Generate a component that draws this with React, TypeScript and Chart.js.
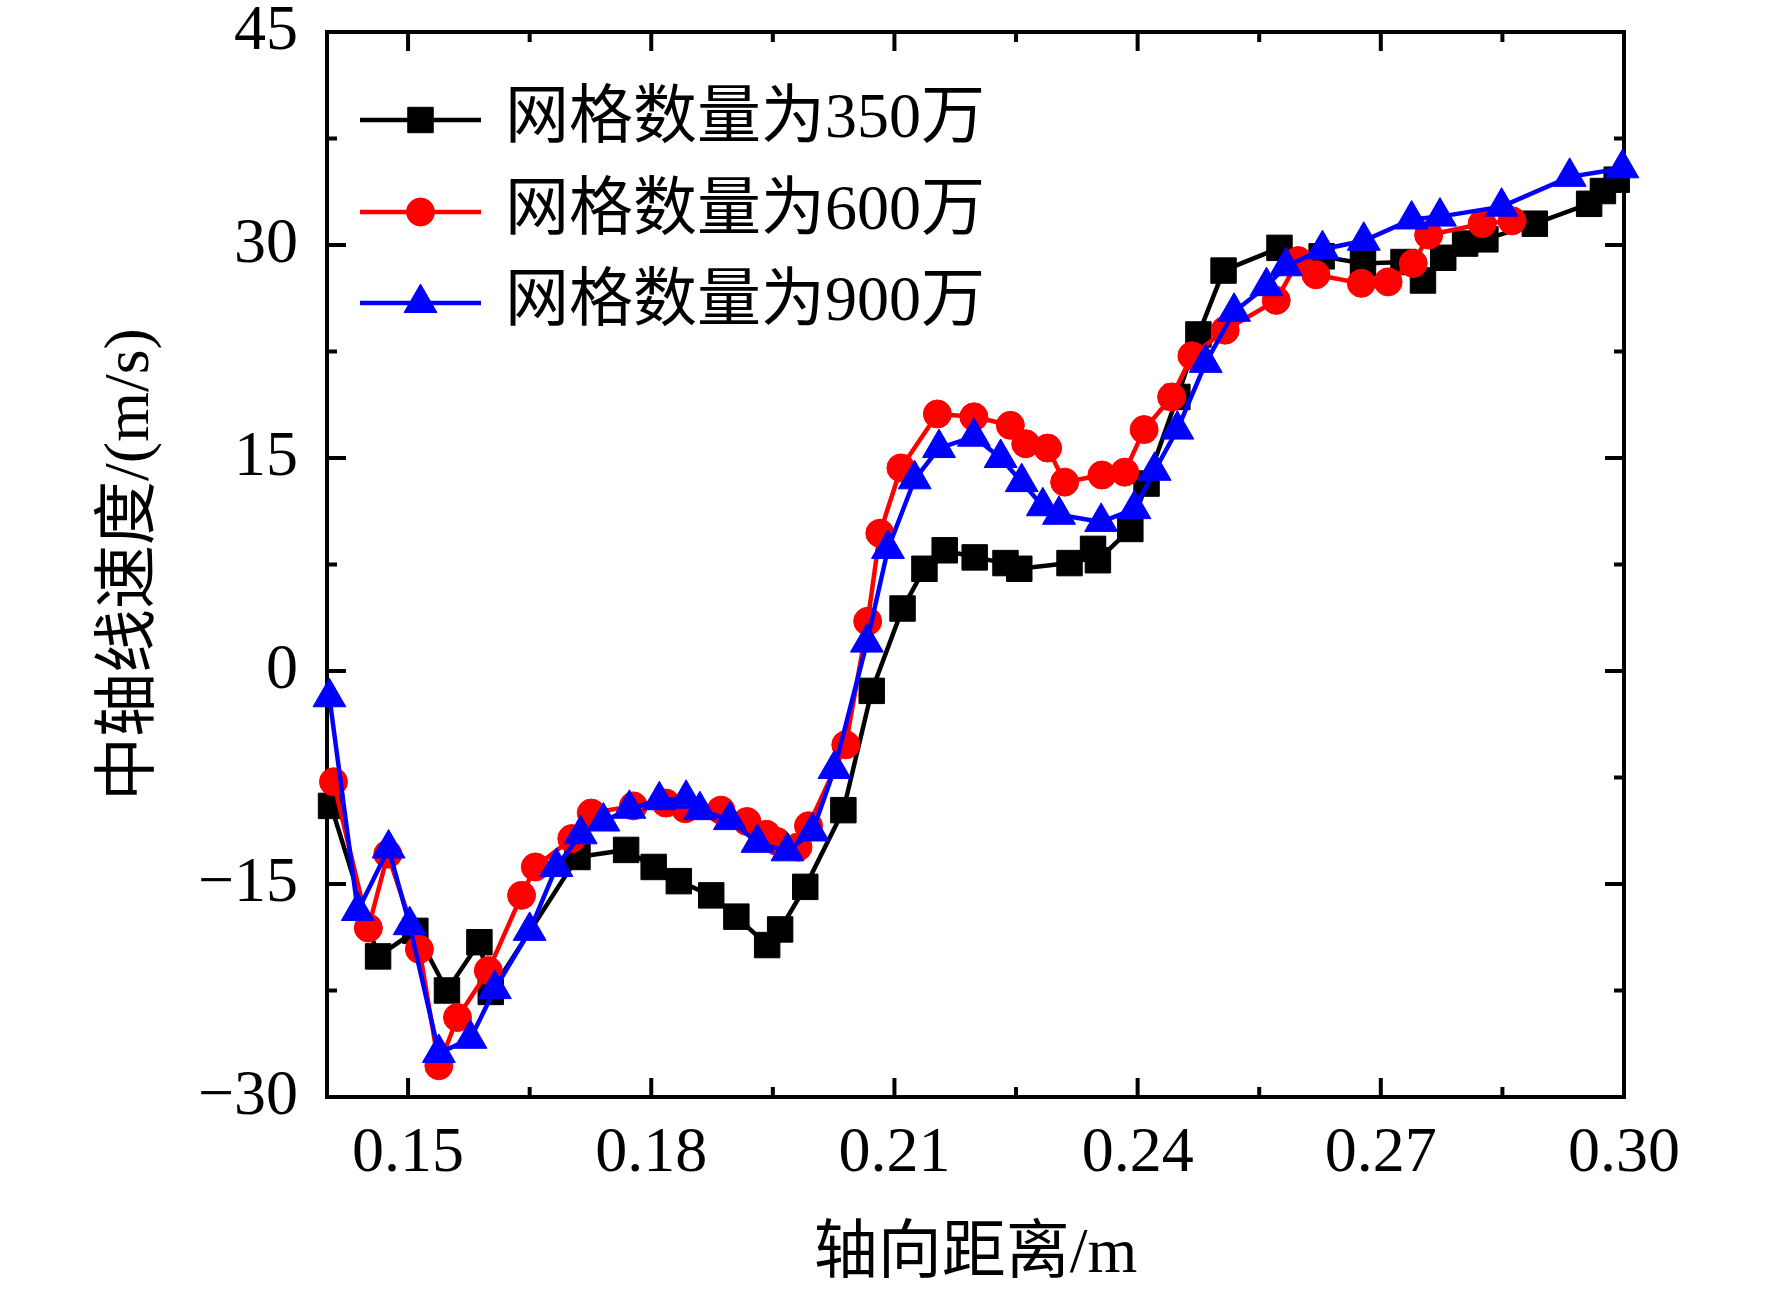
import React, { useEffect, useRef } from 'react';
import { Chart, registerables } from 'chart.js';
import { drawPoint } from 'chart.js/helpers';

Chart.register(...registerables);

// --- data ---
// 网格数量为350万
const x350 = [
  0.1405, 0.1463, 0.1509, 0.1548, 0.1588, 0.1602, 0.1709, 0.1769, 0.1803, 0.1834,
  0.1874, 0.1905, 0.1943, 0.1959, 0.199, 0.2037, 0.2072, 0.211, 0.2137, 0.2162,
  0.2199, 0.2237, 0.2254, 0.2316, 0.2345, 0.2351, 0.2391, 0.2411, 0.2449, 0.2475,
  0.2506, 0.2575, 0.2627, 0.2678, 0.2728, 0.2752, 0.2777, 0.2804, 0.2829, 0.289,
  0.2957, 0.2974, 0.2991,
];
const v350 = [
  -9.5, -20.1, -18.3, -22.5, -19.1, -22.6, -13.1, -12.6, -13.8, -14.8,
  -15.8, -17.3, -19.3, -18.2, -15.2, -9.8, -1.4, 4.4, 7.2, 8.5,
  8.0, 7.6, 7.2, 7.6, 8.6, 7.8, 10.0, 13.2, 19.3, 23.7,
  28.2, 29.8, 29.2, 28.7, 28.8, 27.5, 29.1, 30.1, 30.4, 31.5,
  32.9, 33.8, 34.6,
];

// 网格数量为600万
const x600 = [
  0.1408, 0.1451, 0.1475, 0.1514, 0.1538, 0.1561, 0.1599, 0.164, 0.1657, 0.1702,
  0.1726, 0.1778, 0.1818, 0.1842, 0.1886, 0.1918, 0.1942, 0.1955, 0.1981, 0.1994,
  0.204, 0.2067, 0.2082, 0.2108, 0.2153, 0.2198, 0.2243, 0.2262, 0.2289, 0.231,
  0.2356, 0.2384, 0.2408, 0.2442, 0.2467, 0.2508, 0.2571, 0.2598, 0.262, 0.2676,
  0.2709, 0.274, 0.2759, 0.2825, 0.2862,
];
const v600 = [
  -7.8, -18.1, -12.9, -19.6, -27.8, -24.4, -21.1, -15.8, -13.8, -11.8,
  -10.0, -9.5, -9.3, -9.7, -9.8, -10.6, -11.5, -12.0, -12.4, -10.9,
  -5.2, 3.5, 9.7, 14.3, 18.1, 17.9, 17.3, 16.0, 15.7, 13.3,
  13.8, 14.0, 17.0, 19.3, 22.2, 24.0, 26.1, 28.9, 27.9, 27.3,
  27.4, 28.7, 30.7, 31.5, 31.7,
];

// 网格数量为900万
const x900 = [
  0.1403, 0.1438, 0.1476, 0.1502, 0.1538, 0.1577, 0.1607, 0.165, 0.1683, 0.1713,
  0.1741, 0.1773, 0.181, 0.1843, 0.186, 0.1897, 0.1931, 0.1968, 0.1999, 0.2026,
  0.2066, 0.2092, 0.2125, 0.2155, 0.2198, 0.2231, 0.2257, 0.2283, 0.2303, 0.2355,
  0.2396, 0.2421, 0.2449, 0.2484, 0.2519, 0.2559, 0.2583, 0.2628, 0.2679, 0.2738,
  0.2773, 0.2849, 0.2933, 0.2998,
];
const v900 = [
  -1.85, -16.9, -12.5, -17.9, -26.9, -25.9, -22.4, -18.3, -13.8, -11.5,
  -10.6, -9.7, -9.1, -9.0, -9.8, -10.5, -12.1, -12.7, -11.3, -6.9,
  2.0, 8.6, 13.5, 15.7, 16.5, 15.0, 13.3, 11.6, 11.0, 10.5,
  11.4, 14.1, 17.0, 21.7, 25.3, 27.1, 28.5, 29.7, 30.3, 31.8,
  32.0, 32.7, 34.8, 35.4,
];

const seriesLabels = ['网格数量为350万', '网格数量为600万', '网格数量为900万'];

const xTicks = [0.15, 0.18, 0.21, 0.24, 0.27, 0.3];
const xTickLabels = ['0.15', '0.18', '0.21', '0.24', '0.27', '0.30'];
const yTicks = [-30, -15, 0, 15, 30, 45];
const yTickLabels = ['\u221230', '\u221215', '0', '15', '30', '45'];

const xTitle = '轴向距离/m';
const yTitle = '中轴线速度/(m/s)';

const FONT = "'Liberation Serif', 'Times New Roman', 'Noto Sans CJK SC', serif";

const styles = [
  { color: '#000000', pointStyle: 'rect', radius: 18 },
  { color: '#ff0000', pointStyle: 'circle', radius: 14 },
  { color: '#0000ff', pointStyle: 'triangle', radius: 19 },
];

const toPoints = (xs: number[], ys: number[]) => xs.map((x, i) => ({ x, y: ys[i] }));

const midpoints = (t: number[]) => t.slice(0, -1).map((v, i) => (v + t[i + 1]) / 2);

// frame with inward ticks on all four sides
const framePlugin = {
  id: 'frame',
  beforeDatasetsDraw(chart: any) {
    const { ctx, chartArea: a, scales } = chart;
    const sx = scales.x;
    const sy = scales.y;
    ctx.save();
    ctx.strokeStyle = '#000';
    ctx.lineWidth = 4;
    ctx.strokeRect(a.left, a.top, a.right - a.left, a.bottom - a.top);
    ctx.beginPath();
    const tick = (px: number, len: number, horiz: boolean) => {
      if (horiz) {
        ctx.moveTo(px, a.bottom);
        ctx.lineTo(px, a.bottom - len);
        ctx.moveTo(px, a.top);
        ctx.lineTo(px, a.top + len);
      } else {
        ctx.moveTo(a.left, px);
        ctx.lineTo(a.left + len, px);
        ctx.moveTo(a.right, px);
        ctx.lineTo(a.right - len, px);
      }
    };
    xTicks.forEach((v) => tick(sx.getPixelForValue(v), 19, true));
    midpoints(xTicks).forEach((v) => tick(sx.getPixelForValue(v), 10, true));
    yTicks.forEach((v) => tick(sy.getPixelForValue(v), 19, false));
    midpoints(yTicks).forEach((v) => tick(sy.getPixelForValue(v), 10, false));
    ctx.stroke();
    ctx.restore();
  },
};

// legend inside the plot: line with the marker in its middle
const legendPlugin = {
  id: 'innerLegend',
  afterDatasetsDraw(chart: any) {
    const { ctx, chartArea: a } = chart;
    const x0 = a.left + 33;
    const x1 = a.left + 154;
    const rows = [120, 212, 303];
    ctx.save();
    chart.data.datasets.forEach((ds: any, i: number) => {
      const y = rows[i];
      ctx.strokeStyle = ds.borderColor;
      ctx.lineWidth = 4.5;
      ctx.beginPath();
      ctx.moveTo(x0, y);
      ctx.lineTo(x1, y);
      ctx.stroke();
      ctx.fillStyle = ds.borderColor;
      ctx.strokeStyle = ds.borderColor;
      ctx.lineWidth = 1;
      drawPoint(ctx, { radius: ds.pointRadius, pointStyle: ds.pointStyle, rotation: 0, borderWidth: 1 }, (x0 + x1) / 2, y);
      ctx.fillStyle = '#000';
      ctx.font = `64px ${FONT}`;
      ctx.textAlign = 'left';
      ctx.textBaseline = 'middle';
      ctx.fillText(ds.label, a.left + 178, y);
    });
    ctx.restore();
  },
};

export default function App() {
  const canvasRef = useRef<HTMLCanvasElement>(null);

  useEffect(() => {
    document.body.style.margin = '0';
    const ctx = canvasRef.current?.getContext('2d');
    if (!ctx) return;

    const series = [toPoints(x350, v350), toPoints(x600, v600), toPoints(x900, v900)];

    const chart = new Chart(ctx, {
      type: 'line',
      data: {
        datasets: series.map((data, i) => ({
          label: seriesLabels[i],
          data,
          borderColor: styles[i].color,
          backgroundColor: styles[i].color,
          pointBackgroundColor: styles[i].color,
          pointBorderColor: styles[i].color,
          pointStyle: styles[i].pointStyle as any,
          pointRadius: styles[i].radius,
          pointBorderWidth: 1,
          borderWidth: 4.5,
          tension: 0,
          fill: false,
          clip: false as any,
          order: 2 - i,
        })),
      },
      options: {
        animation: false,
        responsive: false,
        devicePixelRatio: 1,
        layout: { padding: { left: 0, right: 148, top: 32, bottom: 0 } },
        plugins: {
          legend: { display: false },
          tooltip: { enabled: false },
        },
        scales: {
          x: {
            type: 'linear',
            min: 0.14,
            max: 0.3,
            afterBuildTicks: (s: any) => {
              s.ticks = xTicks.map((value) => ({ value }));
            },
            afterFit: (s: any) => {
              s.height = 202;
              s.paddingLeft = 0;
              s.paddingRight = 0;
            },
            grid: { display: false, drawTicks: false },
            border: { display: false },
            ticks: {
              autoSkip: false,
              maxRotation: 0,
              padding: 25,
              color: '#000',
              font: { family: FONT, size: 64, lineHeight: 1 },
              callback: (_v: any, i: number) => xTickLabels[i],
            },
            title: {
              display: true,
              text: xTitle,
              color: '#000',
              font: { family: FONT, size: 64, lineHeight: 1 },
              padding: { top: 0, bottom: 12 },
            },
          },
          y: {
            type: 'linear',
            min: -30,
            max: 45,
            afterBuildTicks: (s: any) => {
              s.ticks = yTicks.map((value) => ({ value }));
            },
            afterFit: (s: any) => {
              s.width = 327;
              s.paddingTop = 0;
              s.paddingBottom = 0;
            },
            grid: { display: false, drawTicks: false },
            border: { display: false },
            ticks: {
              autoSkip: false,
              padding: 29,
              color: '#000',
              font: { family: FONT, size: 64, lineHeight: 1 },
              callback: (_v: any, i: number) => yTickLabels[i],
            },
            title: {
              display: true,
              text: yTitle,
              color: '#000',
              font: { family: FONT, size: 64, lineHeight: 1 },
              padding: { top: 99, bottom: 0 },
            },
          },
        },
      },
      plugins: [framePlugin, legendPlugin],
    });

    return () => {
      chart.destroy();
    };
  }, []);

  return (
    <div style={{ width: 1772, height: 1299, background: '#fff' }}>
      <canvas ref={canvasRef} width={1772} height={1299} style={{ width: 1772, height: 1299, display: 'block' }} />
    </div>
  );
}
